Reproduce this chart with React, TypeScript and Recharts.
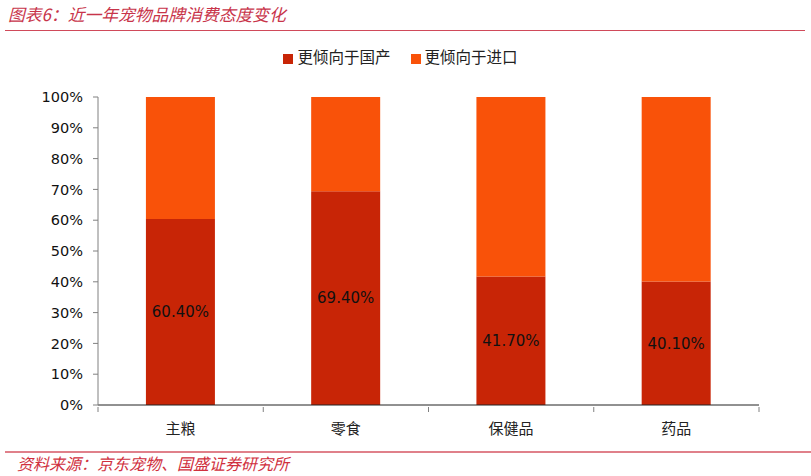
import React from 'react';
import { BarChart, Bar, XAxis, YAxis, Legend, LabelList } from 'recharts';

const categories = ['主粮', '零食', '保健品', '药品'];
const domestic = [60.4, 69.4, 41.7, 40.1];
const imported = [39.6, 30.6, 58.3, 59.9];
const yTicks = [0, 10, 20, 30, 40, 50, 60, 70, 80, 90, 100];

const data = categories.map((name, i) => ({
  name,
  domestic: domestic[i],
  imported: imported[i],
}));

const CJK = '"Noto Sans CJK SC", sans-serif';
const NUM = '"DejaVu Sans", Verdana, sans-serif';

// category axis ticks sit on the band edges, not the centres
const EdgeTick = (props: any) => {
  const { x, y, payload, index, width, visibleTicksCount } = props;
  const half = payload?.offset ?? width / visibleTicksCount / 2;
  const left = x - half;
  const right = x + half;
  return (
    <g>
      <line x1={left} y1={y - 5} x2={left} y2={y} stroke="#808080" />
      {index === visibleTicksCount - 1 && (
        <line x1={right} y1={y - 5} x2={right} y2={y} stroke="#808080" />
      )}
      <text x={x} y={y + 22} textAnchor="middle" fontFamily={CJK} fontSize={15} fill="#222">
        {payload.value}
      </text>
    </g>
  );
};

export default function App() {
  return (
    <div style={{ position: 'absolute', left: 0, top: 0, width: 811, height: 476, background: '#fff' }}>
      <div
        style={{
          position: 'absolute', left: 8, top: 3, fontFamily: CJK, fontStyle: 'italic',
          fontSize: 16.8, color: '#c8344a', lineHeight: '22px',
        }}
      >
        图表6：近一年宠物品牌消费态度变化
      </div>
      <div style={{ position: 'absolute', left: 5, top: 30, width: 800, height: 1, background: '#d04a5a' }} />

      <BarChart
        width={811}
        height={476}
        data={data}
        margin={{ top: 75, right: 52, bottom: 31, left: 0 }}
        barCategoryGap="29%"
      >
        <XAxis
          dataKey="name"
          height={40}
          tickSize={5}
          tickLine={false}
          axisLine={{ stroke: '#222' }}
          tick={<EdgeTick />}
          interval={0}
        />
        <YAxis
          width={98}
          domain={[0, 100]}
          ticks={yTicks}
          tickFormatter={(v: number) => `${v}%`}
          tickSize={5}
          tickMargin={10}
          axisLine={{ stroke: '#808080' }}
          tickLine={{ stroke: '#808080' }}
          tick={{ fontFamily: NUM, fontSize: 14.5, fill: '#111' }}
          interval={0}
        />
        <Legend
          verticalAlign="top"
          align="center"
          iconType="square"
          iconSize={10}
          wrapperStyle={{ top: 45, left: 0, width: 811, fontFamily: CJK, fontSize: 15.5 }}
          formatter={(value: string, _e: any, index: number) => (
            <span style={{ color: '#222', paddingRight: index === 0 ? 10 : 0 }}>{value}</span>
          )}
        />
        <Bar dataKey="domestic" name="更倾向于国产" stackId="a" fill="#c82506" isAnimationActive={false}>
          <LabelList
            dataKey="domestic"
            position="center"
            formatter={(v: number) => `${v.toFixed(2)}%`}
            style={{ fontFamily: NUM, fontSize: 15, fill: '#111' }}
          />
        </Bar>
        <Bar dataKey="imported" name="更倾向于进口" stackId="a" fill="#f95209" isAnimationActive={false} />
      </BarChart>

      <div style={{ position: 'absolute', left: 5, top: 451, width: 806, height: 2, background: '#e0808a' }} />
      <div
        style={{
          position: 'absolute', left: 17, top: 453, fontFamily: CJK, fontStyle: 'italic',
          fontSize: 16, color: '#d0303e', lineHeight: '20px',
        }}
      >
        资料来源：京东宠物、国盛证券研究所
      </div>
    </div>
  );
}
